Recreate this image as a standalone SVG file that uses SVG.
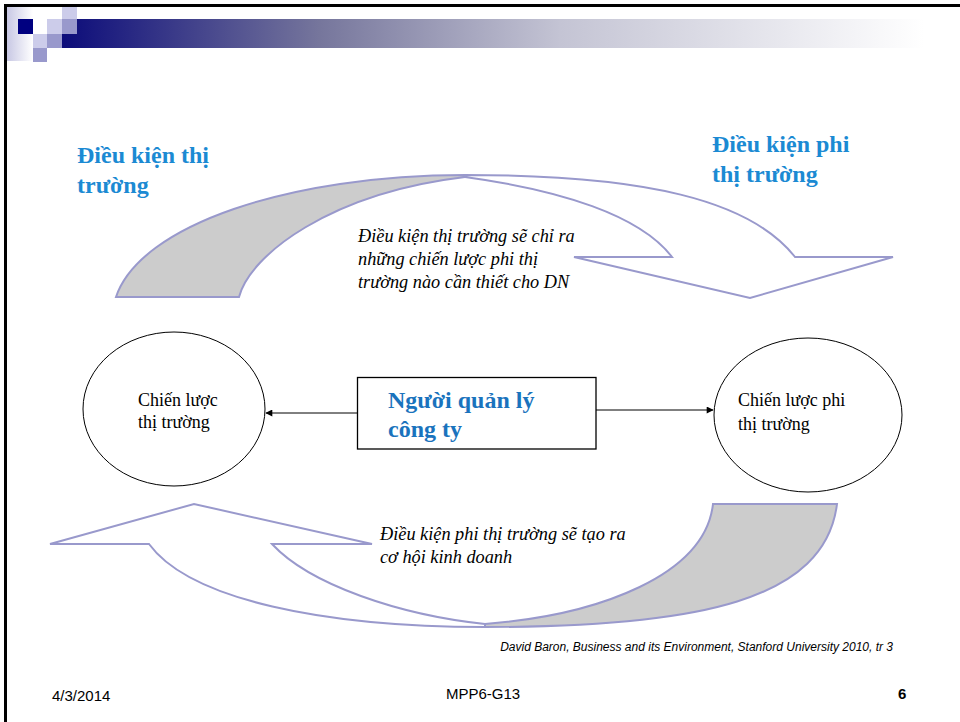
<svg xmlns="http://www.w3.org/2000/svg" width="960" height="722" viewBox="0 0 960 722">
  <defs>
    <linearGradient id="barGrad" gradientUnits="userSpaceOnUse" x1="62" y1="0" x2="960" y2="0">
      <stop offset="0" stop-color="#0c0c7a"/>
      <stop offset="0.287" stop-color="#76769c"/>
      <stop offset="0.555" stop-color="#c4c4d4"/>
      <stop offset="0.96" stop-color="#ffffff"/>
    </linearGradient>
    <linearGradient id="stripGrad" x1="0" y1="0" x2="1" y2="0">
      <stop offset="0" stop-color="#c8c8e4"/>
      <stop offset="1" stop-color="#ffffff"/>
    </linearGradient>
    <marker id="arrow" viewBox="0 0 10 10" refX="9" refY="5" markerWidth="8" markerHeight="7" markerUnits="userSpaceOnUse" orient="auto">
      <path d="M0,0 L10,5 L0,10 Z" fill="#000"/>
    </marker>
    <style>
      .frame { fill: #000; }
      .light { fill: #ccccea; }
      .medium { fill: #9999cc; }
      .navy { fill: #000080; }
      .band { stroke: #9999cc; stroke-width: 2; stroke-linejoin: miter; }
      .shaded { fill: #cccccc; }
      .open { fill: #ffffff; }
      .ellipse { fill: #ffffff; stroke: #000; stroke-width: 1; }
      .box { fill: #ffffff; stroke: #000; stroke-width: 1.3; }
      .title { font-family: "Liberation Serif", "Times New Roman", serif; font-weight: bold; font-size: 24px; fill: #1b8ad3; }
      .boxtext { font-family: "Liberation Serif", "Times New Roman", serif; font-weight: bold; font-size: 24px; fill: #1a73bd; }
      .note { font-family: "Liberation Serif", "Times New Roman", serif; font-style: italic; font-size: 18.3px; fill: #000; }
      .label { font-family: "Liberation Serif", "Times New Roman", serif; font-size: 18px; fill: #000; }
      .cite { font-family: "Liberation Sans", Arial, sans-serif; font-style: italic; font-size: 12px; fill: #000; }
      .foot { font-family: "Liberation Sans", Arial, sans-serif; font-size: 15px; fill: #000; }
      .conn { stroke: #000; stroke-width: 1; fill: none; }
    </style>
  </defs>

  <rect width="960" height="722" fill="#ffffff"/>

  <!-- slide decoration -->
  <g id="decoration">
    <rect x="7" y="7" width="26" height="54" fill="url(#stripGrad)"/>
    <rect x="62" y="19" width="898" height="29" fill="url(#barGrad)"/>
    <rect class="light" x="62" y="7" width="15" height="12"/>
    <rect class="navy" x="18" y="19" width="15" height="15"/>
    <rect class="light" x="47" y="19" width="15" height="15"/>
    <rect class="medium" x="62" y="19" width="15" height="15"/>
    <rect class="light" x="33" y="34" width="14" height="14"/>
    <rect class="medium" x="47" y="34" width="15" height="14"/>
    <rect class="medium" x="33" y="48" width="14" height="14"/>
    <rect class="frame" x="4" y="4" width="956" height="3"/>
    <rect class="frame" x="4" y="4" width="3" height="718"/>
  </g>

  <!-- top curved arrow -->
  <g id="arrow-top">
    <path class="band shaded" d="M116,297 C140,225 290,175 465,175 L465,177 C330,193 250,255 239,297 Z"/>
    <path class="band open" d="M465,175 C645,175 750,200 795,257 L893,257 L750,298 L574,257 L672,257 C640,215 560,190 465,177 Z"/>
  </g>

  <!-- bottom curved arrow -->
  <g id="arrow-bottom">
    <path class="band shaded" d="M713,504 L837,504 C825,600 700,627 485,627 L485,624 C600,615 705,575 713,504 Z"/>
    <path class="band open" d="M485,627 C325,627 190,600 149,544 L50,544 L194,504 L372,544 L272,544 C310,585 400,615 485,624 Z"/>
  </g>

  <!-- titles -->
  <g id="title-market">
    <text class="title" x="77" y="163">Điều kiện thị</text>
    <text class="title" x="77" y="193">trường</text>
  </g>
  <g id="title-nonmarket">
    <text class="title" x="712" y="152">Điều kiện phi</text>
    <text class="title" x="712" y="182">thị trường</text>
  </g>

  <!-- notes -->
  <g id="note-top">
    <text class="note" x="358" y="242">Điều kiện thị trường sẽ chỉ ra</text>
    <text class="note" x="358" y="265">những chiến lược phi thị</text>
    <text class="note" x="358" y="288">trường nào cần thiết cho DN</text>
  </g>
  <g id="note-bottom">
    <text class="note" x="380" y="540">Điều kiện phi thị trường sẽ tạo ra</text>
    <text class="note" x="380" y="563">cơ hội kinh doanh</text>
  </g>

  <!-- nodes -->
  <g id="node-market-strategy">
    <ellipse class="ellipse" cx="174" cy="409" rx="91" ry="77"/>
    <text class="label" x="138" y="406">Chiến lược</text>
    <text class="label" x="138" y="428">thị trường</text>
  </g>

  <g id="node-nonmarket-strategy">
    <ellipse class="ellipse" cx="808" cy="415" rx="94" ry="77"/>
    <text class="label" x="738" y="406" font-size="17.5">Chiến lược phi</text>
    <text class="label" x="738" y="430" font-size="17.5">thị trường</text>
  </g>

  <g id="node-manager">
    <rect class="box" x="357.5" y="377.5" width="238.5" height="71.5"/>
    <text class="boxtext" x="388" y="408">Người quản lý</text>
    <text class="boxtext" x="388" y="437">công ty</text>
  </g>

  <!-- connectors -->
  <g id="connectors">
    <line class="conn" x1="357" y1="413" x2="266" y2="413" marker-end="url(#arrow)"/>
    <line class="conn" x1="596" y1="410" x2="713" y2="410" marker-end="url(#arrow)"/>
  </g>

  <!-- footer -->
  <g id="footer">
    <text class="cite" x="893" y="651" text-anchor="end">David Baron, Business and its Environment, Stanford University 2010, tr 3</text>
    <text class="foot" x="52" y="701">4/3/2014</text>
    <text class="foot" x="483" y="699" text-anchor="middle">MPP6-G13</text>
    <text class="foot" x="898" y="699" font-weight="bold" font-size="16">6</text>
  </g>
</svg>
